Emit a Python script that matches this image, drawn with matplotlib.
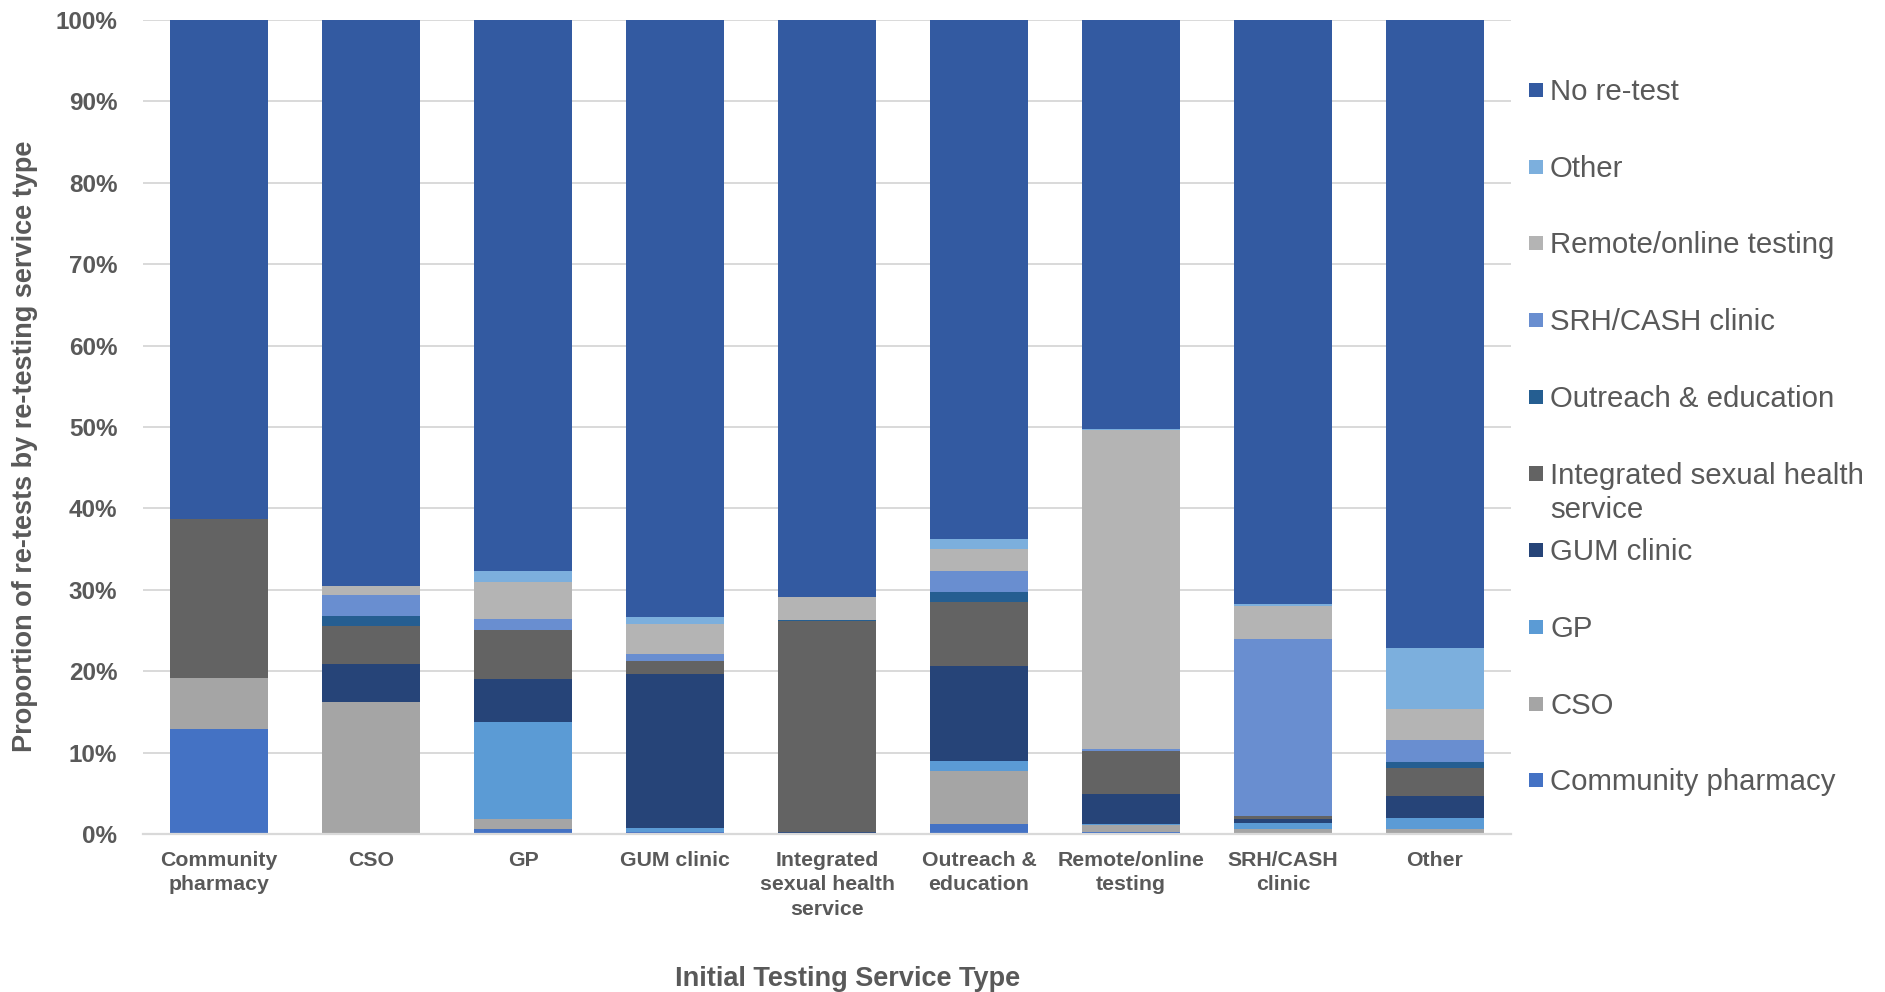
import matplotlib
matplotlib.use("Agg")
import matplotlib.pyplot as plt
from matplotlib.patches import Rectangle
import numpy as np

plt.rcParams['font.family'] = ['Liberation Sans', 'DejaVu Sans']

# Initial testing service (x axis)
categories = ["Community\npharmacy", "CSO", "GP", "GUM clinic",
              "Integrated\nsexual health\nservice", "Outreach &\neducation",
              "Remote/online\ntesting", "SRH/CASH\nclinic", "Other"]

# Share of re-tests (%) by re-testing service, stacked bottom to top
community_pharmacy = [12.9, 0.0, 0.6, 0.3, 0.0, 1.2, 0.2, 0.0, 0.0]
cso                = [6.3, 16.2, 1.2, 0.0, 0.0, 6.6, 0.9, 0.65, 0.6]
gp                 = [0.0, 0.0, 12.0, 0.4, 0.0, 1.2, 0.1, 0.65, 1.4]
gum_clinic         = [0.0, 4.7, 5.3, 18.9, 0.3, 11.7, 3.7, 0.6, 2.7]
integrated_shs     = [19.5, 4.6, 6.0, 1.7, 25.9, 7.8, 5.3, 0.3, 3.4]
outreach_education = [0.0, 1.3, 0.0, 0.0, 0.1, 1.2, 0.0, 0.0, 0.7]
srh_cash_clinic    = [0.0, 2.5, 1.3, 0.8, 0.0, 2.6, 0.3, 21.7, 2.7]
remote_online      = [0.0, 1.2, 4.6, 3.7, 2.8, 2.7, 39.1, 4.1, 3.9]
other_service      = [0.0, 0.0, 1.3, 0.8, 0.0, 1.3, 0.2, 0.2, 7.5]
no_retest          = [61.3, 69.5, 67.7, 73.4, 70.9, 63.7, 50.2, 71.8, 77.1]

series_names = ["Community pharmacy", "CSO", "GP", "GUM clinic",
                "Integrated sexual health service", "Outreach & education",
                "SRH/CASH clinic", "Remote/online testing", "Other", "No re-test"]
series_values = [community_pharmacy, cso, gp, gum_clinic, integrated_shs,
                 outreach_education, srh_cash_clinic, remote_online,
                 other_service, no_retest]
series_colors = ["#4472C4", "#A5A5A5", "#5B9BD5", "#264478", "#636363",
                 "#255E91", "#698ED0", "#B4B4B4", "#7CAFDD", "#335AA1"]

TEXT = "#595959"
GRID = "#D9D9D9"
W, H = 1885, 992

fig = plt.figure(figsize=(W / 100, H / 100), dpi=100)
ax = fig.add_axes([143 / W, 1 - 834 / H, 1368 / W, 814 / H])

x = np.arange(len(categories))
bottom = np.zeros(len(categories))
for name, vals, col in zip(series_names, series_values, series_colors):
    v = np.array(vals, dtype=float)
    ax.bar(x, v, width=0.65, bottom=bottom, color=col, linewidth=0, zorder=3)
    bottom += v

ax.set_xlim(-0.5, len(categories) - 0.5)
ax.set_ylim(0, 100)
ax.set_yticks(np.arange(0, 101, 10))
ax.set_yticklabels([f"{t}%" for t in range(0, 101, 10)],
                   fontsize=17.5, fontweight="bold", color=TEXT)
ax.set_xticks(x)
ax.set_xticklabels(categories, fontsize=15.3, fontweight="bold", color=TEXT,
                   linespacing=1.34)
ax.tick_params(axis="y", length=0, pad=18.5)
ax.tick_params(axis="x", length=0, pad=12.5)
ax.grid(axis="y", color=GRID, linewidth=1.4, zorder=0)
for s in ["top", "right", "left"]:
    ax.spines[s].set_visible(False)
ax.spines["bottom"].set_color(GRID)
ax.spines["bottom"].set_linewidth(1.6)
ax.spines["bottom"].set_zorder(4)

# Axis titles
fig.text(25 / W, 1 - 446 / H, "Proportion of re-tests by re-testing service type",
         rotation=90, ha="center", va="center", fontsize=19.5,
         fontweight="bold", color=TEXT)
fig.text(848 / W, 1 - 979 / H, "Initial Testing Service Type",
         ha="center", va="center", fontsize=19.5, fontweight="bold", color=TEXT)

# Legend, top to bottom in reverse stacking order
legend_lines = [["No re-test"], ["Other"], ["Remote/online testing"],
                ["SRH/CASH clinic"], ["Outreach & education"],
                ["Integrated sexual health", "service"], ["GUM clinic"],
                ["GP"], ["CSO"], ["Community pharmacy"]]
legend_colors = series_colors[::-1]
for k, (lines, col) in enumerate(zip(legend_lines, legend_colors)):
    base = 100 + 76.7 * k
    fig.patches.append(Rectangle((1529 / W, 1 - (base - 3) / H), 14 / W, 14 / H,
                                 transform=fig.transFigure, color=col,
                                 linewidth=0))
    for j, line in enumerate(lines):
        fig.text(1550 / W, 1 - (base + 34 * j) / H, line, ha="left",
                 va="baseline", fontsize=21.2, color=TEXT)

fig.savefig("out.png", dpi=100, facecolor="white")
